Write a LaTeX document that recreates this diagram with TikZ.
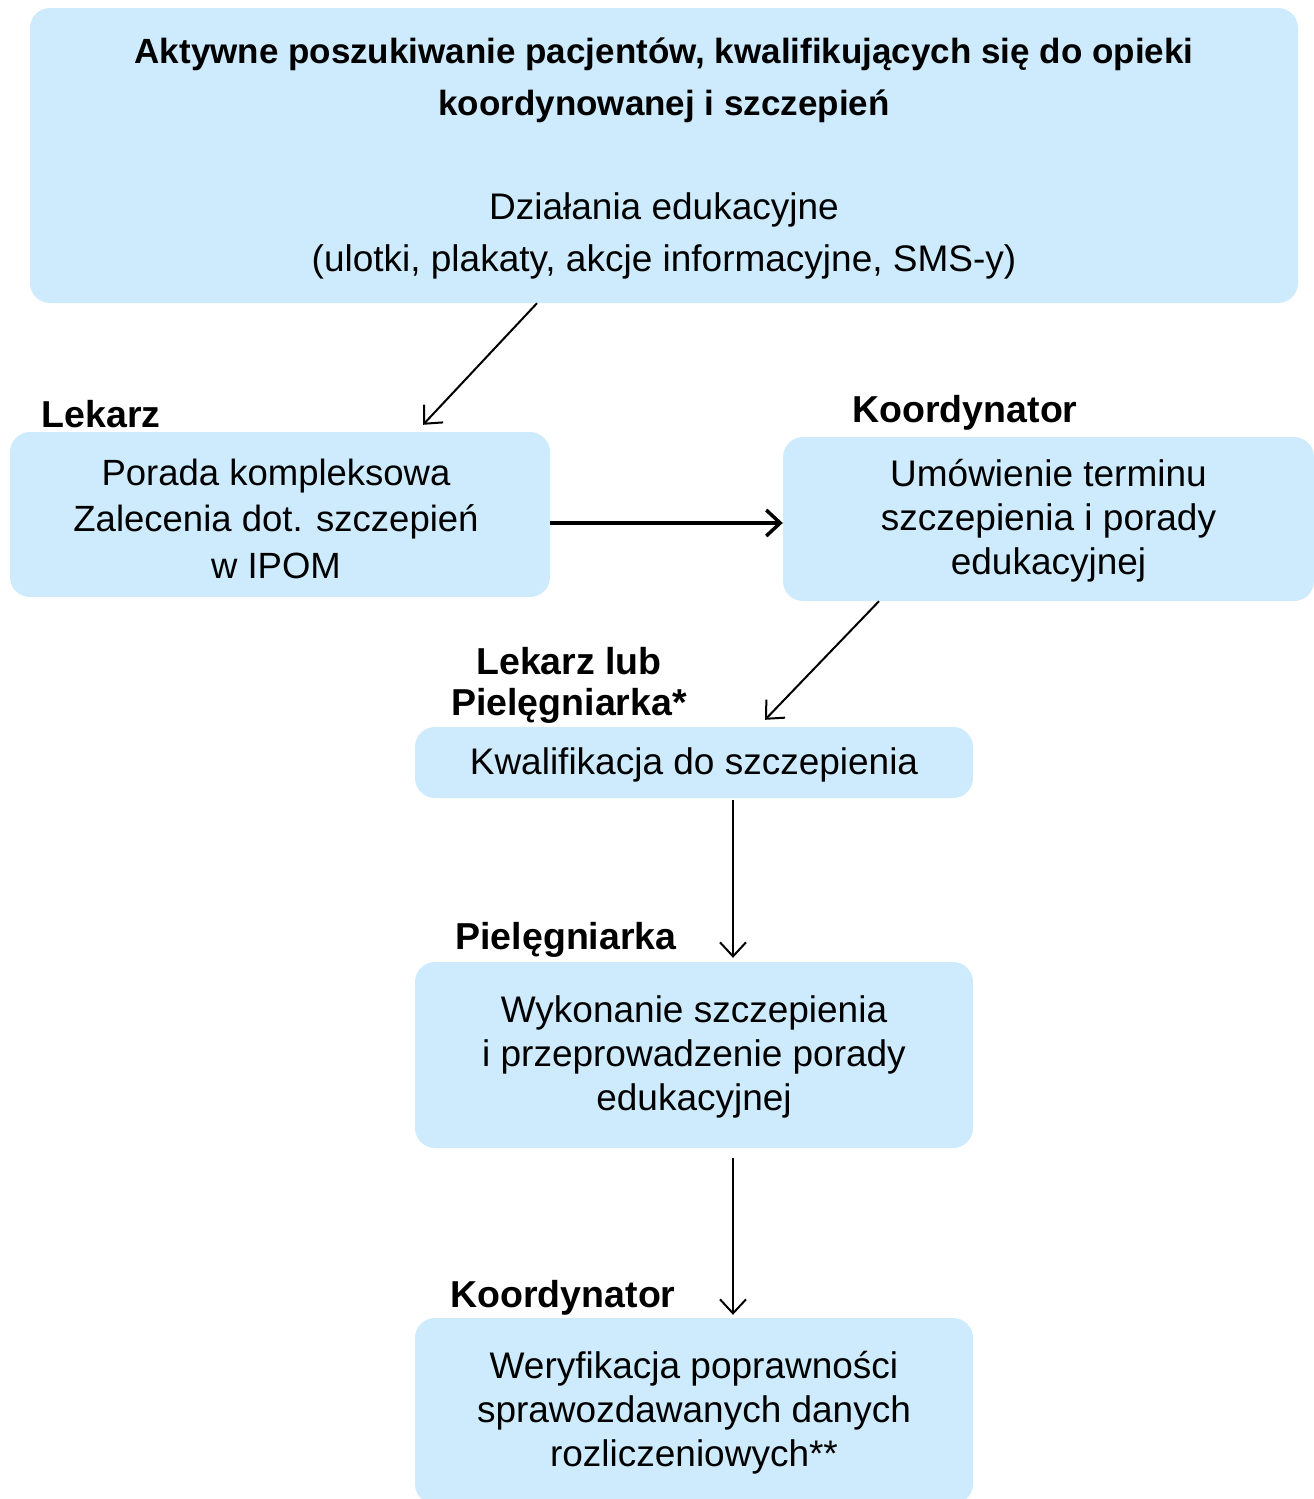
\documentclass[tikz,border=0pt]{standalone}
\usepackage{fontspec}
\setmainfont{Liberation Sans}
\usetikzlibrary{arrows.meta}
\definecolor{boxblue}{RGB}{205,235,252}
\tikzset{
  box/.style={fill=boxblue, rounded corners=20pt, inner sep=0pt},
  txt/.style={align=center, inner sep=0pt, font=\fontsize{37}{44}\selectfont},
  role/.style={font=\fontsize{37.5}{41}\selectfont\bfseries, align=center, inner sep=0pt},
  arr/.style={line width=2pt, -{Straight Barb[length=14pt,width=26pt,line width=2pt]}},
  arrthick/.style={line width=3.5pt, -{Straight Barb[length=14pt,width=26pt,line width=3.5pt]}}
}
\begin{document}
\begin{tikzpicture}[x=1pt,y=-1pt]
\useasboundingbox (0,0) rectangle (1314,1499);
% boxes
\node[box, minimum width=1268pt, minimum height=295pt] (top) at (664,155.5) {};
\node[box, minimum width=540pt, minimum height=165pt] (lek) at (280,514.5) {};
\node[box, minimum width=531pt, minimum height=164pt] (koord) at (1048.5,519) {};
\node[box, minimum width=558pt, minimum height=71pt] (kwal) at (694,762.5) {};
\node[box, minimum width=558pt, minimum height=186pt] (wyk) at (694,1055) {};
\node[box, minimum width=558pt, minimum height=186pt] (wer) at (694,1411) {};
% texts
\node[txt, font=\fontsize{37}{52}\selectfont] (toptxt) at ([yshift=-3pt]top.center)
  {{\fontsize{35}{52}\selectfont\bfseries Aktywne poszukiwanie pacjentów, kwalifikujących się do opieki}\\
   {\fontsize{35}{52}\selectfont\bfseries koordynowanej i szczepień}\\ \strut \\
   Działania edukacyjne\\(ulotki, plakaty, akcje informacyjne, SMS-y)};
\node[txt, font=\fontsize{36.5}{46.5}\selectfont] (lektxt) at ([xshift=-4pt,yshift=-4pt]lek.center)
  {Porada kompleksowa\\Zalecenia dot. szczepień\\w IPOM};
\node[txt] (koordtxt) at ([yshift=-2pt]koord.center)
  {Umówienie terminu\\szczepienia i porady\\edukacyjnej};
\node[txt] (kwaltxt) at ([yshift=-2pt]kwal.center) {Kwalifikacja do szczepienia};
\node[txt] (wyktxt) at ([yshift=-2pt]wyk.center)
  {Wykonanie szczepienia\\i przeprowadzenie porady\\edukacyjnej};
\node[txt] (wertxt) at ([yshift=-2pt]wer.center)
  {Weryfikacja poprawności\\sprawozdawanych danych\\rozliczeniowych**};
% roles
\node[role] (r1) at (101,414) {Lekarz};
\node[role] (r2) at (965,413) {Koordynator};
\node[role] (r3) at (569,685.5) {Lekarz lub\\Pielęgniarka*};
\node[role] (r4) at (566,940) {Pielęgniarka};
\node[role] (r5) at (563,1298) {Koordynator};
% connectors
\draw[arr] ([xshift=-127pt]top.south) -- ([xshift=143pt,yshift=7pt]lek.north);
\draw[arrthick] ([yshift=-8.5pt]lek.east) -- ([yshift=-8.5pt]lek.east -| koord.west);
\draw[arr] ([xshift=-169.5pt]koord.south) -- ([xshift=71pt,yshift=7pt]kwal.north);
\draw[arr] ([xshift=39pt,yshift=-2pt]kwal.south) -- ([xshift=39pt,yshift=4pt]wyk.north);
\draw[arr] ([xshift=39pt,yshift=-10pt]wyk.south) -- ([xshift=39pt,yshift=3pt]wer.north);
\end{tikzpicture}
\end{document}
